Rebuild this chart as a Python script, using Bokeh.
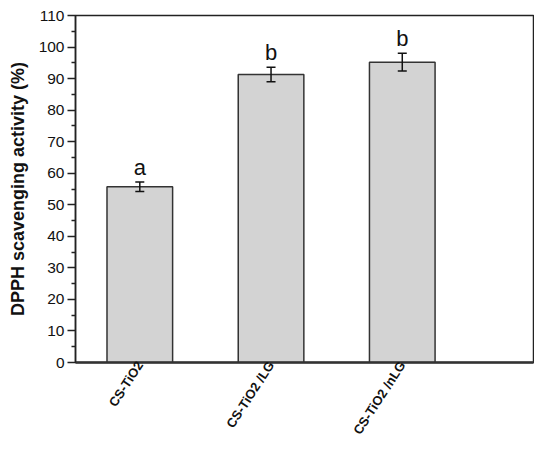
import numpy as np
from bokeh.plotting import figure
from bokeh.models import ColumnDataSource, FixedTicker, Whisker, Range1d
from bokeh.core.properties import value
from bokeh.embed import file_html
from bokeh.resources import INLINE

categories = ["CS-TiO2", "CS-TiO2 /LG", "CS-TiO2 /nLG"]
values = [55.7, 91.3, 95.2]
errors = [1.5, 2.3, 2.8]
letters = ["a", "b", "b"]
y_ticks = [0, 10, 20, 30, 40, 50, 60, 70, 80, 90, 100, 110]

xs = list(range(1, len(categories) + 1))
src = ColumnDataSource(dict(
    x=xs, top=values,
    upper=[v + e for v, e in zip(values, errors)],
    lower=[v - e for v, e in zip(values, errors)],
    letter=letters,
))

FONT = "Liberation Sans"

p = figure(width=534, height=444, output_backend="svg", toolbar_location=None,
           x_range=Range1d(0.51, 4.0), y_range=Range1d(0, 110),
           min_border_left=75, min_border_top=15, min_border_right=1, min_border_bottom=81)
p.background_fill_color = "white"
p.border_fill_color = "white"
p.outline_line_color = "#222222"
p.outline_line_width = 1.5
p.xgrid.visible = False
p.ygrid.visible = False

p.vbar(x="x", top="top", width=0.5, source=src, fill_color="#d3d3d3",
       line_color="#333333", line_width=1.5)

w = Whisker(base="x", upper="upper", lower="lower", source=src,
            line_color="#111111", line_width=1.5, level="overlay")
w.upper_head.size = 9
w.lower_head.size = 9
w.upper_head.line_width = 1.5
w.lower_head.line_width = 1.5
w.upper_head.line_color = "#111111"
w.lower_head.line_color = "#111111"
p.add_layout(w)

p.text(x="x", y="upper", text="letter", source=src, text_align="center",
       text_baseline="bottom", y_offset=-2, text_font=value(FONT),
       text_font_size="22px", text_color="#111111")

# y axis
ya = p.yaxis[0]
ya.ticker = FixedTicker(ticks=y_ticks, minor_ticks=list(np.arange(5, 110, 10)))
ya.axis_label = "DPPH scavenging activity (%)"
ya.axis_label_text_font = FONT
ya.axis_label_text_font_style = "bold"
ya.axis_label_text_font_size = "18px"
ya.axis_label_text_color = "#111111"
ya.axis_label_standoff = 8
ya.major_label_text_font = FONT
ya.major_label_text_font_size = "15.5px"
ya.major_label_text_color = "#111111"
ya.major_label_standoff = 3
ya.major_tick_in = 0
ya.major_tick_out = 8
ya.minor_tick_in = 0
ya.minor_tick_out = 4
ya.axis_line_width = 1.5
ya.axis_line_color = "#222222"
ya.major_tick_line_width = 1.5
ya.minor_tick_line_width = 1.5
ya.major_tick_line_color = "#222222"
ya.minor_tick_line_color = "#222222"

# x axis
xa = p.xaxis[0]
xa.ticker = FixedTicker(ticks=xs, minor_ticks=[])
xa.major_label_overrides = {i: c for i, c in zip(xs, categories)}
xa.major_label_orientation = np.deg2rad(57)
xa.major_label_text_font = FONT
xa.major_label_text_font_style = "bold"
xa.major_label_text_font_size = "13px"
xa.major_label_text_color = "#111111"
xa.major_label_standoff = 0
xa.major_tick_in = 0
xa.major_tick_out = 0
xa.minor_tick_in = 0
xa.minor_tick_out = 0
xa.axis_line_width = 2.5
xa.axis_line_color = "#333333"

open("out.html", "w").write(file_html(p, INLINE))
